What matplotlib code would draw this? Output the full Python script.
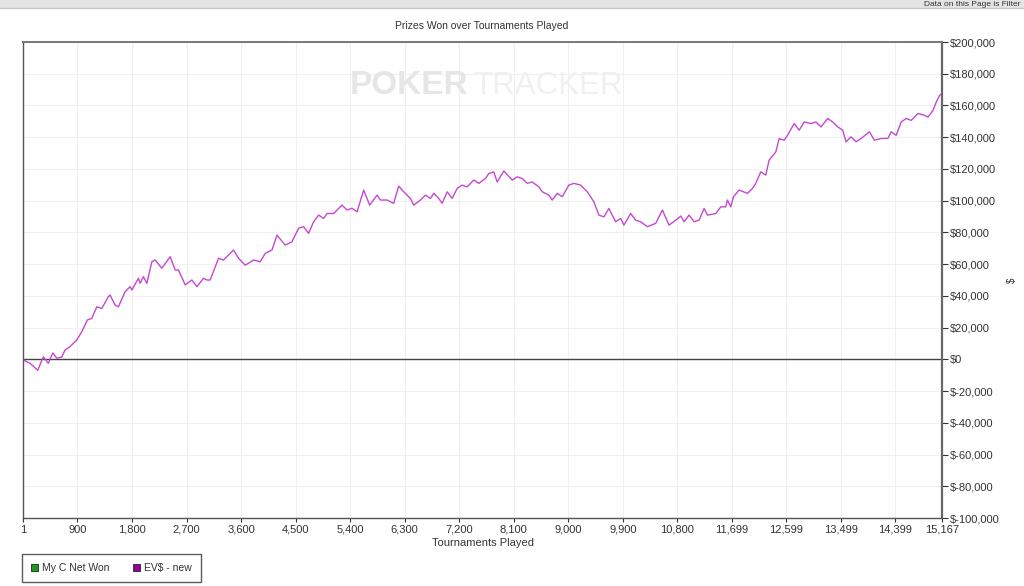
import matplotlib
matplotlib.use("Agg")
import matplotlib.pyplot as plt
import matplotlib.patches as mpatches
from matplotlib.ticker import FuncFormatter

plt.rcParams['font.family'] = ['Liberation Sans', 'DejaVu Sans']

# tournaments played vs EV$ won
tournaments = [1, 62, 117, 244, 336, 419, 492, 558, 640, 695, 777, 888, 971, 1063, 1136,
               1219, 1301, 1410, 1438, 1521, 1575, 1686, 1769, 1797, 1906, 1934, 1988, 2045,
               2127, 2182, 2292, 2430, 2512, 2567, 2678, 2788, 2871, 2980, 3036, 3090, 3228,
               3310, 3475, 3558, 3668, 3806, 3916, 3999, 4110, 4192, 4329, 4440, 4549, 4632,
               4714, 4797, 4880, 4962, 5018, 5127, 5266, 5349, 5431, 5514, 5623, 5722, 5844,
               5899, 6009, 6118, 6201, 6284, 6394, 6449, 6560, 6642, 6725, 6780, 6862, 6918,
               7001, 7083, 7166, 7248, 7331, 7440, 7523, 7633, 7688, 7770, 7826, 7936, 8075,
               8157, 8240, 8322, 8405, 8514, 8570, 8679, 8735, 8818, 8900, 9009, 9092, 9203,
               9313, 9422, 9505, 9588, 9670, 9781, 9864, 9918, 10029, 10112, 10194, 10305,
               10442, 10553, 10662, 10773, 10856, 10910, 10993, 11076, 11158, 11241, 11296,
               11433, 11516, 11598, 11626, 11681, 11725, 11818, 11956, 12039, 12094, 12176,
               12259, 12313, 12424, 12479, 12562, 12618, 12727, 12810, 12893, 13004, 13087,
               13170, 13280, 13363, 13446, 13528, 13583, 13666, 13749, 13832, 13969, 14052,
               14163, 14273, 14328, 14411, 14494, 14576, 14659, 14770, 14880, 14936, 15018,
               15073, 15128, 15167]
ev_won = [0, -1500, -2500, -6900, 1600, -2500, 4000, 800, 1400, 5900, 8000, 12200, 17400,
          24800, 25800, 33100, 32100, 39500, 40500, 34200, 33100, 42600, 45800, 43700, 51100,
          47900, 52100, 47900, 61500, 62600, 57400, 64700, 56300, 56300, 46900, 50000, 45800,
          51100, 50000, 50000, 63700, 62600, 68900, 63700, 59300, 62600, 61500, 66800, 68900,
          78300, 72000, 74100, 82600, 83600, 79400, 86700, 90900, 88800, 91900, 91900, 97200,
          94100, 95200, 93000, 106700, 97200, 103500, 100400, 100400, 98300, 109200, 105600,
          101400, 97200, 100400, 103500, 101400, 104600, 101400, 98300, 105600, 101400,
          107700, 109800, 108700, 113000, 110900, 114000, 117100, 118100, 111800, 118700,
          113000, 115000, 114000, 110900, 111800, 108700, 105600, 103500, 100400, 104600,
          102500, 109800, 110900, 109800, 105600, 99300, 90900, 89800, 95100, 86700, 88800,
          84600, 91900, 87700, 86700, 83600, 85700, 94100, 84600, 87700, 90300, 86700, 90900,
          86700, 87700, 95100, 90900, 91900, 96100, 96100, 100400, 96100, 102400, 106700,
          104600, 107700, 110900, 118200, 116100, 125500, 130700, 139100, 138100, 141200,
          148600, 144400, 149600, 148600, 149600, 146500, 151800, 149600, 146500, 144400,
          137100, 140200, 137100, 139200, 143400, 138100, 139200, 139200, 143400, 141200,
          149600, 151800, 150600, 154900, 153800, 152700, 156900, 162200, 166400, 167500]

x_ticks = [1, 900, 1800, 2700, 3600, 4500, 5400, 6300, 7200, 8100, 9000, 9900, 10800,
           11699, 12599, 13499, 14399, 15167]
y_ticks = list(range(-100000, 200001, 20000))
legend_labels = ['My C Net Won', 'EV$ - new']
legend_colors = ['#1a9a1a', '#990099']

fig = plt.figure(figsize=(10.24, 5.86), dpi=100)
ax = fig.add_axes([23 / 1024, 1 - 518 / 586, 919 / 1024, 476 / 586])

ax.plot(tournaments, ev_won, color='#c448d0', lw=1.0)
ax.axhline(0, color='#444444', lw=1.0, zorder=1)

ax.set_xlim(1, 15167)
ax.set_ylim(-100000, 200000)
ax.set_xticks(x_ticks)
ax.set_xticklabels([f'{t:,}' for t in x_ticks])
ax.set_yticks(y_ticks)
ax.yaxis.set_major_formatter(FuncFormatter(lambda v, p: f'${int(v):,}' if v >= 0 else f'$-{int(-v):,}'))
ax.yaxis.tick_right()
ax.tick_params(axis='both', labelsize=8, colors='#333333', length=3, width=0.8, direction='out', pad=2)
ax.tick_params(axis='y', length=4)
ax.grid(True, color='#f0f0f0', lw=0.8)
ax.set_axisbelow(True)

for side in ['left', 'bottom']:
    ax.spines[side].set_color('#555555')
    ax.spines[side].set_linewidth(1.0)
ax.spines['top'].set_color('#777777')
ax.spines['top'].set_linewidth(1.4)
ax.spines['right'].set_color('#666666')
ax.spines['right'].set_linewidth(1.6)

ax.set_xlabel('Tournaments Played', fontsize=8, color='#333333', labelpad=2)
fig.text(482 / 1024, 1 - 26 / 586, 'Prizes Won over Tournaments Played', ha='center', va='center',
         fontsize=7.5, color='#333333')
fig.text(1012 / 1024, 1 - 280 / 586, '$', rotation=90, ha='center', va='center', fontsize=7,
         color='#333333')

# watermark
fig.text(350 / 1024, 1 - 86 / 586, 'POKER', ha='left', va='center', fontsize=24, weight='bold',
         color='#e6e6e6', zorder=0)
fig.text(473 / 1024, 1 - 86 / 586, 'TRACKER', ha='left', va='center', fontsize=22.5,
         color='#f0f0f0', zorder=0)

# top strip of the page
fig.patches.append(mpatches.Rectangle((0, 1 - 8 / 586), 1, 8 / 586, transform=fig.transFigure,
                                      facecolor='#e4e4e4', edgecolor='none'))
fig.add_artist(plt.Line2D([0, 1], [1 - 8 / 586, 1 - 8 / 586], transform=fig.transFigure,
                          color='#c8c8c8', lw=1))
fig.text(1021 / 1024, 1 - 1 / 586, 'Data on this Page is Filter', ha='right', va='top',
         fontsize=6, color='#333333')

handles = [mpatches.Patch(facecolor=c, edgecolor='#222222', lw=0.6) for c in legend_colors]
leg = fig.legend(handles, legend_labels, ncol=2, loc='lower left',
                 bbox_to_anchor=(22 / 1024, 1 - 582 / 586), fontsize=7.5, frameon=True,
                 fancybox=False, edgecolor='#333333', handlelength=0.7, handleheight=0.7,
                 handletextpad=0.4, columnspacing=2.2, borderpad=0.85, borderaxespad=0)
leg.get_frame().set_linewidth(1.0)
for t in leg.get_texts():
    t.set_color('#333333')

fig.savefig('out.png', dpi=100)
